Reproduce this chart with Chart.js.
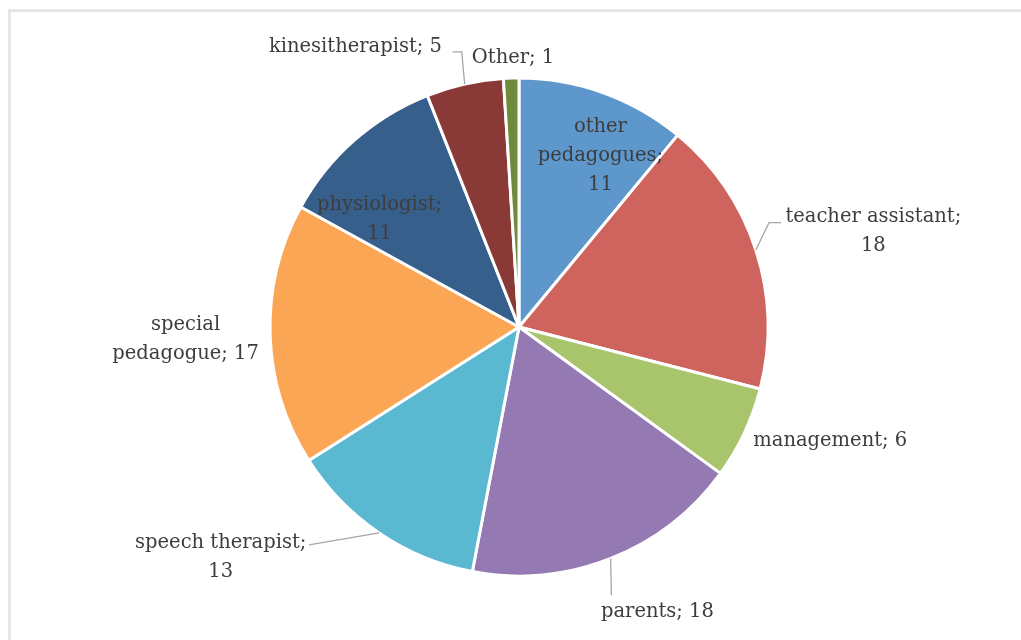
<!DOCTYPE html>
<html>
<head>
<meta charset="utf-8">
<script src="https://cdn.jsdelivr.net/npm/chart.js@4"></script>
<style>
  html, body { margin: 0; padding: 0; background: #fff; overflow: hidden; }
  #chart { display: block; }
</style>
</head>
<body>
<canvas id="chart" width="1021" height="640"></canvas>
<script>
// Données du graphique (sens horaire depuis midi)
const categories = ['other pedagogues', 'teacher assistant', 'management', 'parents',
  'speech therapist', 'special pedagogue', 'physiologist', 'kinesitherapist', 'Other'];
const values = [11, 18, 6, 18, 13, 17, 11, 5, 1];
const colors = ['#5e97cc', '#cf645e', '#a9c56c', '#9579b2', '#5bb8d1',
  '#fba655', '#375f8b', '#8a3a36', '#6f8a3b'];

// Texte des étiquettes, ligne par ligne
const labelLines = [
  ['other', 'pedagogues;', '11'],
  ['teacher assistant;', '18'],
  ['management; 6'],
  ['parents; 18'],
  ['speech therapist;', '13'],
  ['special', 'pedagogue; 17'],
  ['physiologist;', '11'],
  ['kinesitherapist; 5'],
  ['Other; 1']
];

// Mise en page des étiquettes : centre du bloc en unités de rayon (dx, dy)
const labelLayout = [
  [0.327, -0.686], [1.423, -0.383], [1.250, 0.456], [0.556, 1.145],
  [-1.198, 0.927], [-1.339, 0.048], [-0.560, -0.431], [-0.657, -1.125], [-0.024, -1.081]
];
// Lignes de rappel : points après le bord de la part, en unités de rayon
const leaderLayout = [
  null,
  [[1.004, -0.419], [1.052, -0.419]],
  null,
  [[0.371, 1.077]],
  [[-0.843, 0.875]],
  null,
  null,
  [[-0.230, -1.105], [-0.266, -1.105]],
  null
];

const FONT = '19.5px "DejaVu Serif"';
const LINE_H = 29;

// Cadre gris clair (haut et gauche seulement, comme l'original recadré)
const framePlugin = {
  id: 'frame',
  beforeDraw(chart) {
    const ctx = chart.ctx;
    ctx.save();
    ctx.strokeStyle = '#e6e6e6';
    ctx.lineWidth = 3;
    ctx.beginPath();
    ctx.moveTo(9.5, chart.height);
    ctx.lineTo(9.5, 10.5);
    ctx.lineTo(chart.width, 10.5);
    ctx.stroke();
    ctx.restore();
  }
};

const labelPlugin = {
  id: 'pieLabels',
  afterDatasetsDraw(chart) {
    const ctx = chart.ctx;
    const arcs = chart.getDatasetMeta(0).data;
    ctx.save();
    arcs.forEach((arc, i) => {
      const cx = arc.x, cy = arc.y, r = arc.outerRadius;
      const mid = (arc.startAngle + arc.endAngle) / 2;
      const lead = leaderLayout[i];
      if (lead) {
        ctx.strokeStyle = '#a6a6a6';
        ctx.lineWidth = 1.3;
        ctx.beginPath();
        ctx.moveTo(cx + Math.cos(mid) * r, cy + Math.sin(mid) * r);
        lead.forEach(p => ctx.lineTo(cx + p[0] * r, cy + p[1] * r));
        ctx.stroke();
      }
      const lines = labelLines[i];
      const bx = cx + labelLayout[i][0] * r;
      const by = cy + labelLayout[i][1] * r;
      ctx.font = FONT;
      ctx.fillStyle = '#3d3d3d';
      ctx.textAlign = 'center';
      ctx.textBaseline = 'middle';
      const top = by - (lines.length - 1) * LINE_H / 2;
      lines.forEach((t, k) => ctx.fillText(t, bx, top + k * LINE_H));
    });
    ctx.restore();
  }
};

new Chart(document.getElementById('chart'), {
  type: 'pie',
  data: {
    labels: categories,
    datasets: [{
      data: values,
      backgroundColor: colors,
      borderColor: '#ffffff',
      borderWidth: 3,
      radius: 249
    }]
  },
  options: {
    responsive: false,
    animation: false,
    layout: { padding: { left: 200, right: 183, top: 78, bottom: 64 } },
    plugins: {
      legend: { display: false },
      tooltip: { enabled: false }
    }
  },
  plugins: [framePlugin, labelPlugin]
});
</script>
</body>
</html>
